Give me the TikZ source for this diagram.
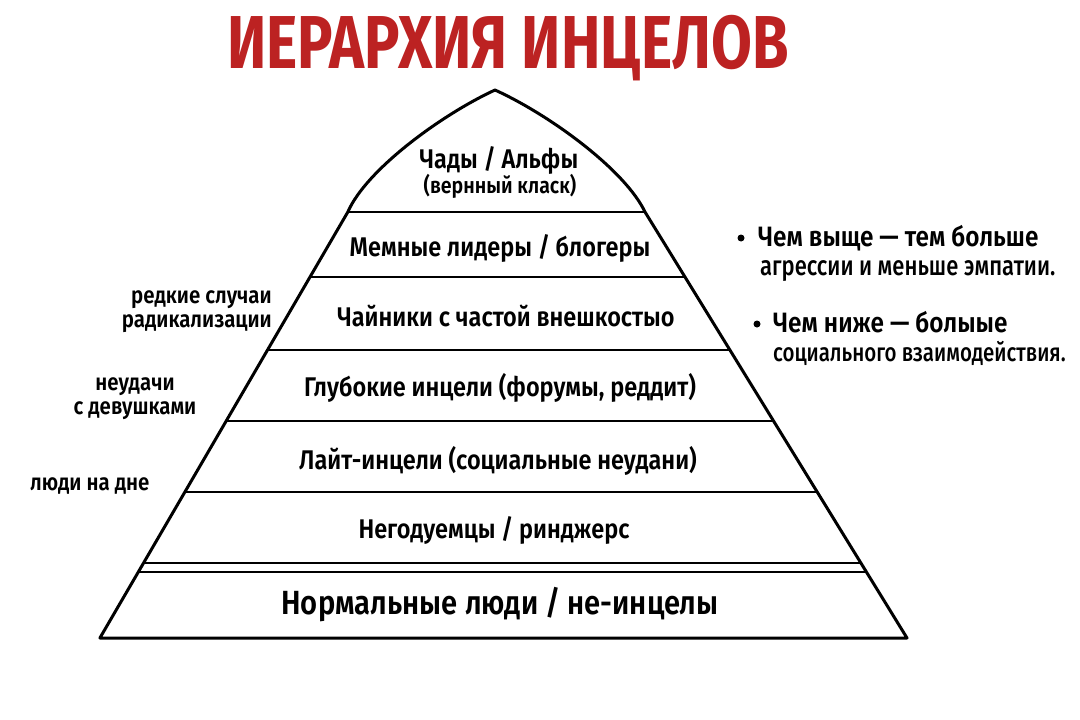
\documentclass[tikz,border=0pt]{standalone}
\usepackage{fontspec}
\setmainfont{Fira Sans}[FakeStretch=0.87]
\newfontfamily\medfont{Fira Sans}[FakeStretch=0.87, UprightFont=* SemiBold]
\newfontfamily\notefont{Fira Sans}[FakeStretch=0.8, UprightFont=* Medium]
\newfontfamily\titlefont{Fira Sans}[FakeStretch=0.79, UprightFont=* Bold]
\usetikzlibrary{positioning}
\definecolor{titlered}{HTML}{BC2222}

\begin{document}
\begin{tikzpicture}[x=1pt, y=-1pt]

    % Styles
    \tikzstyle{title} = [font=\titlefont\fontsize{75}{75}\selectfont, text=titlered, inner sep=0pt]
    \tikzstyle{layer} = [font=\medfont\fontsize{27}{27}\selectfont, inner sep=0pt]
    \tikzstyle{side} = [font=\medfont\fontsize{23.5}{24}\selectfont, inner sep=0pt, align=right]
    \tikzstyle{note} = [font=\medfont\fontsize{28}{28}\selectfont, inner sep=0pt, anchor=base west]
    \tikzstyle{note2} = [note, font=\notefont\fontsize{27.5}{27.5}\selectfont]
    \tikzstyle{dot} = [circle, fill=black, inner sep=0pt, minimum size=7pt]
    \tikzstyle{edge} = [line width=3pt, line join=round]
    \tikzstyle{cut} = [line width=2.2pt]

    \useasboundingbox (0,0) rectangle (1080,720);

    % Titre
    \node (head) [title, anchor=base] at (508,68) {ИЕРАРХИЯ ИНЦЕЛОВ};

    % Bords de la pyramide
    \coordinate (apex) at (495,90);
    \foreach \y [count=\i] in {212,277,350,421,492,563,572,638} {
        \coordinate (l\i) at ({310-0.582*(\y-277)},\y);
        \coordinate (r\i) at ({685+0.615*(\y-277)},\y);
    }
    \draw [edge] (l1) .. controls (366,170) and (441,115) .. (apex)
        .. controls (550,115) and (625,170) .. (r1) -- (r8) -- (l8) -- cycle;
    \foreach \i in {1,...,7}
        \draw [cut] (l\i) -- (r\i);

    % Etages
    \node (chads) [layer] at (499,160) {Чады / Альфы};
    \node (upper) [layer, font=\medfont\fontsize{22.5}{22.5}\selectfont] at (500,186) {(вернный класк)};
    \node (memes) [layer] at (500,248) {Мемные лидеры / блогеры};
    \node (teapots) [layer] at (506,316) {Чайники с частой внешкостыо};
    \node (deep) [layer] at (500,388) {Глубокие инцели (форумы, реддит)};
    \node (light) [layer] at (498,461) {Лайт-инцели (социальные неудани)};
    \node (indignant) [layer] at (494,530) {Негодуемцы / ринджерс};
    \node (normal) [layer, font=\medfont\fontsize{33.5}{33.5}\selectfont] at (500,605) {Нормальные люди / не-инцелы};

    % Remarques a gauche
    \node (rare) [side, anchor=east] at (272,312) {редкие случаи\\радикализации};
    \node (girls) [side, align=center] at (135,399) {неудачи\\с девушками};
    \node (bottom) [side, anchor=west] at (30,486) {люди на дне};

    % Remarques a droite
    \node (up) [note] at (758,246) {Чем выще — тем больше};
    \node (up2) [note2] at (760,275) {агрессии и меньше эмпатии.};
    \node (up-dot) [dot] at (741,238) {};
    \node (down) [note] at (773,332) {Чем ниже — болыые};
    \node (down2) [note2, font=\notefont\fontsize{25.6}{25.6}\selectfont] at (773,361) {социального взаимодействия.};
    \node (down-dot) [dot] at (757,324) {};

\end{tikzpicture}
\end{document}
